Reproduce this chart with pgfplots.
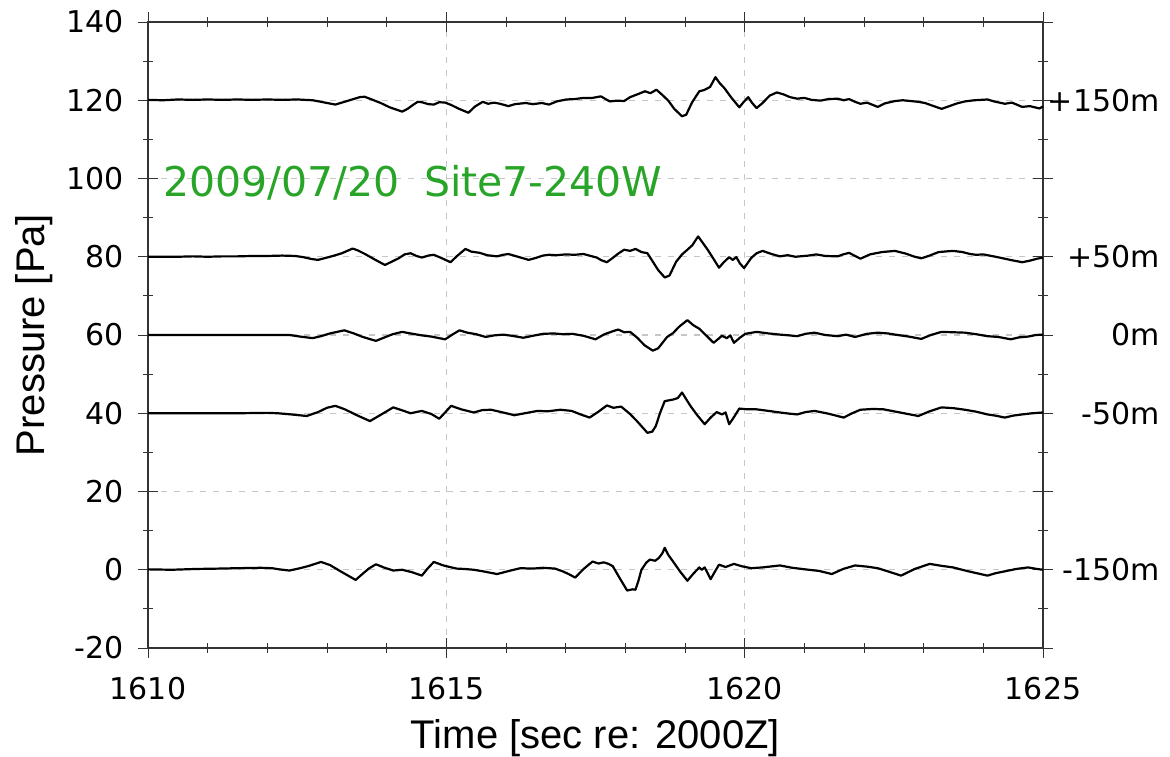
\documentclass[border=0pt]{standalone}
\usepackage{fontspec}
\setmainfont{DejaVu Sans}
\newfontfamily\arialf{Liberation Sans}
\usepackage{pgfplots}
\pgfplotsset{compat=1.18}
\definecolor{titlegreen}{RGB}{40,165,40}

\begin{document}
\begin{tikzpicture}
\useasboundingbox (-74pt,-54pt) rectangle (511pt,324pt);
\begin{axis}[
    at={(0,0)}, anchor=south west,
    scale only axis, width=447.5pt, height=313pt,
    xmin=1610, xmax=1625, ymin=-20, ymax=140,
    xtick={1610,1615,...,1625}, ytick={-20,0,...,140},
    minor x tick num=4, minor y tick num=1,
    tick align=center, major tick length=10pt, minor tick length=5pt,
    tick pos=both,
    grid=major,
    major grid style={gray!45, line width=0.6pt, dash pattern=on 3pt off 3.5pt},
    axis line style={black!80, line width=0.7pt},
    every tick/.style={black!80, line width=0.5pt},
    /pgf/number format/assume math mode=true,
    /pgf/number format/1000 sep={},
    tick label style={font=\fontsize{15}{18}\selectfont},
    xticklabel style={yshift=-6pt},
    yticklabel style={xshift=-3.5pt},
    xlabel={Time [sec re: 2000Z]},
    ylabel={Pressure [Pa]},
    label style={font=\arialf\fontsize{20}{24}\selectfont},
    x label style={at={(axis description cs:0.5,0)}, anchor=north, inner sep=0pt, yshift=-35.5pt},
    y label style={at={(axis description cs:0,0.5)}, anchor=center, inner sep=0pt, yshift=57pt},
    clip=false,
]
% +150 m
\addplot[black, line width=1.1pt, line join=round] table {
1610.00 120.1
1610.25 120.0
1610.50 120.2
1610.75 120.1
1611.00 120.2
1611.25 120.1
1611.50 120.2
1611.75 120.1
1612.00 120.2
1612.25 120.1
1612.50 120.2
1612.76 120.0
1612.90 119.6
1613.00 119.3
1613.14 118.9
1613.25 119.4
1613.40 120.1
1613.55 120.8
1613.63 120.9
1613.75 120.2
1613.90 119.3
1614.05 118.2
1614.26 117.1
1614.35 117.8
1614.45 118.9
1614.52 119.6
1614.59 119.5
1614.70 119.0
1614.79 118.9
1614.88 119.5
1614.98 119.4
1615.08 118.8
1615.20 117.9
1615.37 116.8
1615.48 118.4
1615.61 119.6
1615.70 119.1
1615.80 119.4
1615.90 119.1
1616.04 118.5
1616.15 119.0
1616.33 119.3
1616.45 119.0
1616.60 119.3
1616.72 118.9
1616.85 119.7
1617.01 120.2
1617.15 120.3
1617.30 120.6
1617.45 120.6
1617.59 121.0
1617.68 120.2
1617.74 119.7
1617.86 119.9
1617.98 119.8
1618.08 120.8
1618.20 121.5
1618.33 122.3
1618.42 121.8
1618.52 122.7
1618.61 121.5
1618.72 119.9
1618.82 117.8
1618.95 115.9
1619.02 116.3
1619.12 119.5
1619.24 122.3
1619.32 122.6
1619.42 123.4
1619.51 125.9
1619.58 124.4
1619.66 123.1
1619.78 120.6
1619.91 118.2
1619.98 119.5
1620.06 120.8
1620.12 119.4
1620.20 118.0
1620.30 119.3
1620.42 121.2
1620.54 122.0
1620.65 121.5
1620.76 120.8
1620.88 120.4
1621.00 120.6
1621.12 120.1
1621.27 119.9
1621.40 120.3
1621.56 120.4
1621.66 120.0
1621.75 120.3
1621.85 119.6
1621.94 119.1
1622.05 119.4
1622.23 118.3
1622.35 119.2
1622.52 119.8
1622.65 120.0
1622.78 119.8
1622.91 119.6
1623.02 119.3
1623.15 118.6
1623.30 117.8
1623.45 118.6
1623.56 119.2
1623.69 119.7
1623.85 120.0
1624.07 120.2
1624.18 119.7
1624.36 119.1
1624.48 119.4
1624.65 118.3
1624.78 118.5
1624.94 117.9
1625.00 118.4
};
% +50 m
\addplot[black, line width=1.1pt, line join=round] table {
1610.00 80.0
1610.25 80.0
1610.50 80.0
1610.75 80.1
1611.00 80.0
1611.25 80.1
1611.50 80.1
1611.75 80.2
1612.00 80.2
1612.25 80.3
1612.47 80.2
1612.60 79.9
1612.75 79.4
1612.85 79.2
1612.95 79.6
1613.10 80.2
1613.25 80.9
1613.43 82.1
1613.52 81.6
1613.65 80.6
1613.80 79.3
1613.97 77.9
1614.08 78.7
1614.20 79.6
1614.30 80.6
1614.40 80.9
1614.50 80.2
1614.59 79.8
1614.70 80.3
1614.79 80.5
1614.90 79.8
1615.07 78.6
1615.18 80.2
1615.32 82.0
1615.42 81.3
1615.56 81.0
1615.68 80.4
1615.85 80.1
1615.95 80.5
1616.04 80.7
1616.20 80.0
1616.38 79.2
1616.50 79.7
1616.62 80.3
1616.72 80.5
1616.85 80.4
1617.00 80.6
1617.15 80.5
1617.30 80.7
1617.42 80.2
1617.52 79.8
1617.60 79.1
1617.69 78.6
1617.78 79.6
1617.88 80.8
1617.98 81.8
1618.08 81.5
1618.17 82.0
1618.27 81.2
1618.37 80.9
1618.45 79.0
1618.55 76.6
1618.66 74.7
1618.74 75.2
1618.85 78.7
1618.95 80.6
1619.04 81.8
1619.12 82.9
1619.22 85.2
1619.30 83.5
1619.38 81.8
1619.48 79.4
1619.57 77.2
1619.65 78.6
1619.74 79.9
1619.80 79.2
1619.86 79.9
1619.92 78.3
1619.99 77.1
1620.05 78.4
1620.11 79.7
1620.20 80.9
1620.30 81.5
1620.45 80.7
1620.59 80.1
1620.72 80.4
1620.85 80.0
1621.07 80.3
1621.20 80.6
1621.35 80.2
1621.56 80.1
1621.65 80.6
1621.75 81.0
1621.85 80.2
1621.94 79.5
1622.10 80.6
1622.30 81.2
1622.52 81.5
1622.70 80.8
1622.85 80.0
1622.96 79.6
1623.10 80.3
1623.25 81.2
1623.49 81.5
1623.65 81.2
1623.78 80.7
1623.88 80.5
1624.00 80.6
1624.17 80.1
1624.30 79.7
1624.45 79.2
1624.65 78.6
1624.78 79.0
1624.90 79.5
1625.00 79.8
};
% 0 m
\addplot[black, line width=1.1pt, line join=round] table {
1610.00 60.0
1610.50 60.0
1611.00 60.0
1611.50 60.0
1612.00 60.0
1612.37 60.0
1612.55 59.6
1612.76 59.2
1612.90 59.7
1613.05 60.4
1613.29 61.2
1613.45 60.4
1613.60 59.5
1613.82 58.5
1613.95 59.3
1614.10 60.2
1614.26 60.8
1614.40 60.4
1614.59 59.9
1614.75 59.6
1614.98 58.9
1615.10 60.1
1615.22 61.2
1615.35 60.6
1615.50 60.2
1615.66 59.5
1615.80 59.9
1615.95 60.1
1616.10 59.8
1616.29 59.3
1616.45 59.8
1616.62 60.3
1616.80 60.4
1616.95 60.2
1617.11 60.3
1617.30 59.8
1617.50 58.9
1617.65 60.2
1617.78 60.9
1617.88 61.4
1617.98 60.7
1618.08 60.8
1618.20 59.3
1618.32 57.4
1618.46 56.0
1618.55 56.6
1618.70 59.5
1618.80 60.5
1618.90 62.1
1619.04 63.8
1619.14 62.5
1619.24 61.6
1619.36 59.8
1619.48 58.0
1619.55 58.9
1619.62 59.8
1619.70 59.2
1619.76 59.9
1619.82 58.0
1619.92 59.3
1620.01 60.3
1620.20 60.8
1620.40 60.4
1620.59 60.1
1620.75 59.9
1620.88 59.7
1621.02 60.3
1621.17 60.6
1621.35 60.0
1621.56 59.7
1621.70 60.1
1621.85 59.5
1622.05 60.3
1622.23 60.6
1622.40 60.4
1622.52 60.1
1622.75 59.6
1622.96 59.0
1623.12 60.0
1623.30 60.8
1623.50 60.7
1623.69 60.6
1623.88 60.2
1624.07 59.7
1624.25 59.5
1624.46 58.9
1624.60 59.4
1624.75 59.6
1624.88 60.0
1625.00 60.1
};
% -50 m
\addplot[black, line width=1.1pt, line join=round] table {
1610.00 40.0
1610.50 40.0
1611.00 40.0
1611.50 40.0
1612.00 40.1
1612.18 40.0
1612.40 39.7
1612.66 39.3
1612.85 40.3
1613.00 41.4
1613.14 41.9
1613.30 41.0
1613.50 39.5
1613.72 38.0
1613.90 39.6
1614.11 41.5
1614.25 40.8
1614.40 40.0
1614.59 40.6
1614.75 39.8
1614.88 38.6
1614.98 40.2
1615.08 41.9
1615.25 41.0
1615.46 40.2
1615.60 40.8
1615.75 40.9
1615.95 40.2
1616.14 39.5
1616.35 40.1
1616.53 40.6
1616.70 40.5
1616.91 40.9
1617.10 40.6
1617.25 39.7
1617.40 38.9
1617.55 40.4
1617.69 42.0
1617.80 41.4
1617.93 41.7
1618.08 39.8
1618.20 37.9
1618.37 35.0
1618.45 35.3
1618.51 36.7
1618.58 40.0
1618.66 43.1
1618.80 43.5
1618.88 43.9
1618.95 45.3
1619.02 43.6
1619.09 41.9
1619.20 39.6
1619.33 37.2
1619.43 38.9
1619.53 40.3
1619.62 39.7
1619.68 40.2
1619.74 37.2
1619.82 39.0
1619.91 41.2
1620.05 41.0
1620.20 41.0
1620.40 40.6
1620.59 40.2
1620.75 39.9
1620.88 39.7
1621.02 40.3
1621.17 40.6
1621.40 39.9
1621.66 38.9
1621.80 40.0
1621.94 40.9
1622.15 41.1
1622.33 41.0
1622.60 40.2
1622.91 39.3
1623.10 40.5
1623.30 41.5
1623.50 41.3
1623.69 40.9
1623.88 40.4
1624.07 39.7
1624.20 39.4
1624.36 38.9
1624.50 39.4
1624.65 39.7
1624.82 40.0
1625.00 40.2
};
% -150 m
\addplot[black, line width=1.1pt, line join=round] table {
1610.00 0.1
1610.40 0.0
1610.80 0.2
1611.20 0.3
1611.50 0.4
1611.89 0.5
1612.08 0.4
1612.20 0.1
1612.37 -0.2
1612.55 0.4
1612.70 1.0
1612.90 2.0
1613.05 1.2
1613.25 -0.6
1613.48 -2.6
1613.60 -1.0
1613.70 0.3
1613.82 1.4
1613.95 0.6
1614.11 -0.2
1614.26 0.0
1614.42 -0.6
1614.59 -1.5
1614.68 0.2
1614.79 2.0
1614.95 1.1
1615.17 0.3
1615.30 0.2
1615.46 0.0
1615.65 -0.5
1615.85 -1.1
1616.05 -0.3
1616.24 0.4
1616.45 0.3
1616.62 0.5
1616.82 0.3
1616.95 -0.4
1617.05 -1.1
1617.16 -2.0
1617.30 0.2
1617.45 2.1
1617.55 1.6
1617.64 1.9
1617.72 1.5
1617.79 0.9
1617.90 -2.0
1618.03 -5.3
1618.12 -5.0
1618.17 -5.1
1618.22 -2.8
1618.27 0.0
1618.35 1.8
1618.41 2.6
1618.50 2.3
1618.56 3.0
1618.62 4.2
1618.66 5.6
1618.72 3.8
1618.80 2.1
1618.92 -0.5
1619.04 -2.8
1619.14 -1.0
1619.24 0.6
1619.28 0.0
1619.33 0.6
1619.43 -2.4
1619.50 -0.5
1619.57 1.3
1619.68 0.7
1619.82 1.5
1619.95 0.9
1620.11 0.4
1620.30 0.6
1620.59 1.1
1620.80 0.5
1621.07 0.0
1621.25 -0.3
1621.46 -1.1
1621.65 0.2
1621.85 1.1
1622.05 0.8
1622.23 0.4
1622.42 -0.5
1622.62 -1.5
1622.85 0.2
1623.10 1.5
1623.30 1.0
1623.49 0.6
1623.75 -0.4
1624.07 -1.5
1624.20 -0.9
1624.36 -0.4
1624.55 0.2
1624.75 0.6
1624.90 0.2
1625.00 0.0
};

\node[anchor=west, text=titlegreen, inner sep=0pt, font=\fontsize{20.5}{24}\selectfont]
    at (axis cs:1610.25,99) {2009/07/20\hspace{0.6em}Site7-240W};

\begin{scope}[every node/.style={anchor=east, inner sep=0pt, xshift=58.5pt, font=\fontsize{15}{18}\selectfont}]
\node at (axis cs:1625,120) {+150m};
\node at (axis cs:1625,80) {+50m};
\node at (axis cs:1625,60) {0m};
\node at (axis cs:1625,40) {-50m};
\node at (axis cs:1625,0) {-150m};
\end{scope}
\end{axis}
\end{tikzpicture}
\end{document}
